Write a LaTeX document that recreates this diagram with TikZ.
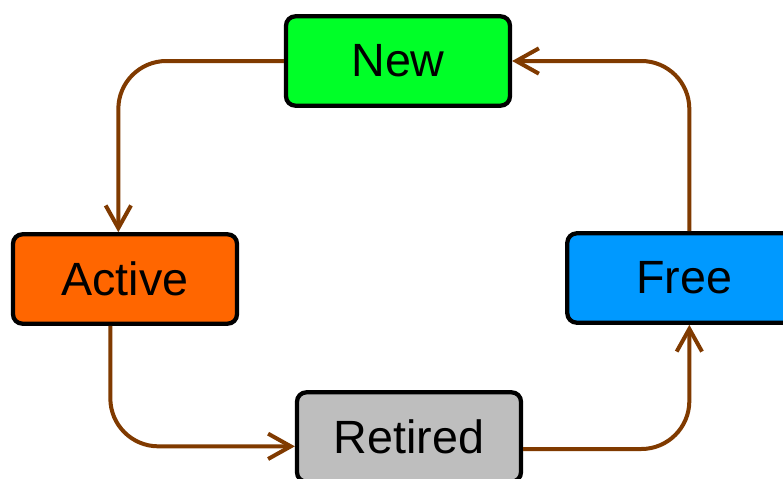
\documentclass[tikz,border=0pt]{standalone}
\usepackage{fontspec}
\setmainfont{Liberation Sans}
\usetikzlibrary{arrows.meta}
\definecolor{newgreen}{RGB}{0,255,40}
\definecolor{activeorange}{RGB}{255,102,0}
\definecolor{freeblue}{RGB}{0,153,255}
\definecolor{retiredgray}{RGB}{190,190,190}
\definecolor{linkbrown}{RGB}{128,58,0}
\tikzset{
  state/.style={
    rectangle,
    rounded corners=7pt,
    draw,
    line width=3.2pt,
    align=center,
    minimum width=168pt,
    minimum height=67pt,
    font=\fontsize{35}{40}\selectfont
  },
  link/.style={
    -{Straight Barb[length=17pt, width=19pt]},
    line width=3pt,
    draw=linkbrown,
    rounded corners=36pt
  }
}

\begin{document}
\begin{tikzpicture}[x=0.75pt,y=-0.75pt]
\useasboundingbox (0,0) rectangle (783,479);
\node[state, fill=newgreen] (new) at (398,61) {New};
\node[state, fill=activeorange] (active) at (125,279) {Active};
\node[state, fill=freeblue, minimum width=175pt] (free) at (684,278) {Free};
\node[state, fill=retiredgray] (retired) at (409,437) {Retired};

\draw[link] (new.west) -| ([xshift=-5pt]active.north);
\draw[link] ([xshift=-11pt]active.south) |- ([yshift=-7pt]retired.west);
\draw[link] ([yshift=-9pt]retired.east) -| ([xshift=4pt]free.south);
\draw[link] ([xshift=4pt]free.north) |- (new.east);
\end{tikzpicture}
\end{document}
